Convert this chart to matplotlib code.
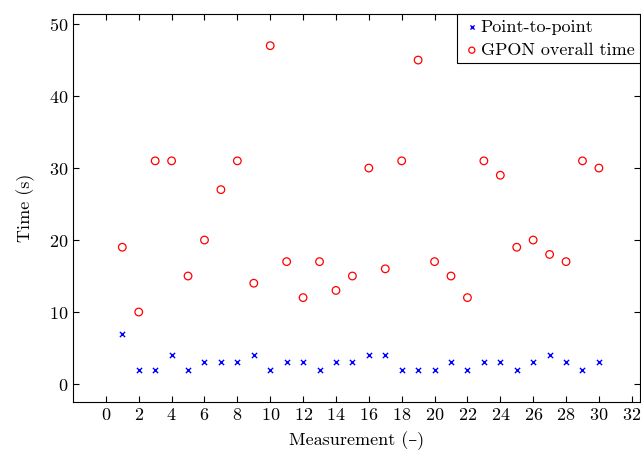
import numpy as np
import matplotlib
matplotlib.use("Agg")
import matplotlib.pyplot as plt

plt.rcParams['font.family'] = ['cmr10', 'DejaVu Serif']
plt.rcParams['mathtext.fontset'] = 'cm'
plt.rcParams['axes.formatter.use_mathtext'] = True

# Messwerte
messung = np.arange(1, 31)
p2p = [7, 2, 2, 4, 2, 3, 3, 3, 4, 2, 3, 3, 2, 3, 3,
       4, 4, 2, 2, 2, 3, 2, 3, 3, 2, 3, 4, 3, 2, 3]
gpon = [19, 10, 31, 31, 15, 20, 27, 31, 14, 47, 17, 12, 17, 13, 15,
        30, 16, 31, 45, 17, 15, 12, 31, 29, 19, 20, 18, 17, 31, 30]
x_ticks = list(range(0, 33, 2))
y_ticks = list(range(0, 51, 10))

fig = plt.figure(figsize=(6.41, 4.55), dpi=100)
ax = fig.add_axes([73 / 641, 1 - 402 / 455, 567 / 641, 388 / 455])

ax.scatter(messung, p2p, marker='x', color='blue', s=14, linewidths=1.0,
           label='Point-to-point', zorder=3)
ax.scatter(messung, gpon, marker='o', facecolors='none', edgecolors='red',
           s=30, linewidths=0.9, label='GPON overall time', zorder=3)

ax.set_xlim(-2.0, 32.5)
ax.set_ylim(-2.5, 51.4)
ax.set_xticks(x_ticks)
ax.set_yticks(y_ticks)
ax.tick_params(direction='in', top=True, right=True, labelsize=13, length=4)
ax.set_xlabel('Measurement (\u2013)', fontsize=13, labelpad=6)
ax.set_ylabel('Time (s)', fontsize=13, labelpad=10)

leg = ax.legend(loc='upper right', fontsize=13, frameon=True, fancybox=False,
                edgecolor='black', framealpha=1, borderpad=0.3,
                handletextpad=0.0, handlelength=1.0, labelspacing=0.4,
                borderaxespad=0.0, markerscale=0.8)
leg.get_frame().set_linewidth(0.8)

fig.savefig('out.png', dpi=100)
